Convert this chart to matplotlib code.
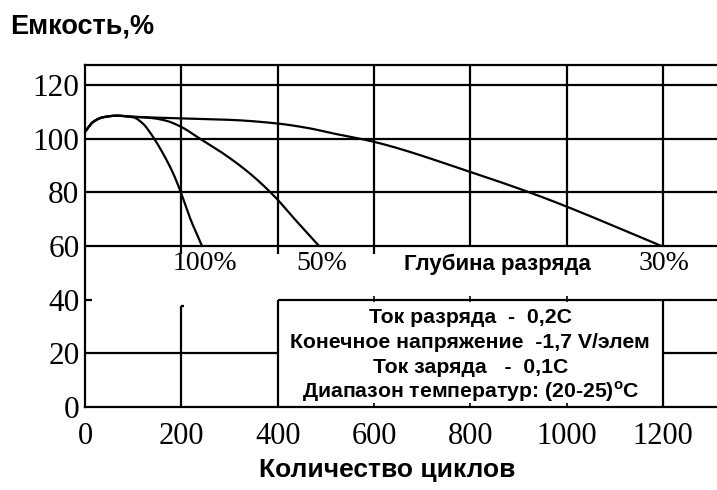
import matplotlib
matplotlib.use("Agg")
import matplotlib.pyplot as plt
import numpy as np

# ---- data ----
cycles_100 = [0, 17, 37, 65, 100, 120, 134, 162, 183, 199, 217, 243]
cap_100 = [102.6, 106.3, 108.0, 108.6, 108.0, 105.7, 102.6, 94.5, 87.1, 80.0, 70.9, 60.0]

cycles_50 = [0, 17, 37, 65, 100, 140, 169, 199, 238, 287, 342, 394, 437, 486]
cap_50 = [102.6, 106.3, 108.0, 108.6, 108.2, 107.7, 106.7, 104.5, 100.1, 94.5, 87.1, 78.4, 69.7, 60.0]

cycles_30 = [0, 17, 37, 65, 100, 199, 307, 399, 466, 515, 599, 799, 938, 1000, 1197]
cap_30 = [102.6, 106.3, 108.0, 108.6, 108.2, 107.6, 107.0, 105.7, 103.9, 102.0, 98.9, 87.7, 79.0, 74.7, 60.0]

depth_labels = ["100%", "50%", "30%"]
x_ticks = [0, 200, 400, 600, 800, 1000, 1200]
y_ticks = [0, 20, 40, 60, 80, 100, 120]
grid_x = [200, 400, 600, 800, 1000, 1200]
grid_y_upper = [60, 80, 100, 120]

y_title = "Емкость,%"
x_title = "Количество циклов"
depth_title = "Глубина разряда"
conditions = [
    "Ток разряда  -  0,2С",
    "Конечное напряжение  -1,7 V/элем",
    "Ток заряда   -  0,1С",
    "Диапазон температур: (20-25)$^\\mathregular{o}$C",
]


def smooth(x, y, n=300):
    """Monotone cubic (Fritsch-Carlson) curve through the given points, for drawing."""
    x = np.asarray(x, float)
    y = np.asarray(y, float)
    h = np.diff(x)
    d = np.diff(y) / h
    m = np.zeros_like(y)
    m[0], m[-1] = d[0], d[-1]
    for i in range(1, len(x) - 1):
        if d[i - 1] * d[i] <= 0:
            m[i] = 0.0
        else:
            w1 = 2 * h[i] + h[i - 1]
            w2 = h[i] + 2 * h[i - 1]
            m[i] = (w1 + w2) / (w1 / d[i - 1] + w2 / d[i])
    xs = np.linspace(x[0], x[-1], n)
    idx = np.clip(np.searchsorted(x, xs) - 1, 0, len(x) - 2)
    t = (xs - x[idx]) / h[idx]
    h00 = 2 * t**3 - 3 * t**2 + 1
    h10 = t**3 - 2 * t**2 + t
    h01 = -2 * t**3 + 3 * t**2
    h11 = t**3 - t**2
    ys = h00 * y[idx] + h10 * h[idx] * m[idx] + h01 * y[idx + 1] + h11 * h[idx] * m[idx + 1]
    return xs, ys


XMAX, YMAX = 1312, 127.5
LW = 1.6
sans = ["Liberation Sans", "DejaVu Sans"]
serif = ["Liberation Serif", "DejaVu Serif"]

fig = plt.figure(figsize=(7.17, 4.90), dpi=100)
ax = fig.add_axes([85 / 717, 83 / 490, (717 - 85) / 717, 342 / 490])
ax.set_xlim(0, XMAX)
ax.set_ylim(0, YMAX)

for s in ["left", "top", "bottom"]:
    ax.spines[s].set_linewidth(LW)
    ax.spines[s].set_color("black")
ax.spines["right"].set_visible(False)

# upper grid
ax.vlines(grid_x, 60, YMAX, colors="black", lw=LW)
ax.hlines(grid_y_upper, 0, XMAX, colors="black", lw=LW)
ax.vlines(grid_x[:3], 57, 60, colors="black", lw=LW)

# lower structure
ax.hlines(40, 0, 15, colors="black", lw=LW)
ax.vlines(200, 0, 37.5, colors="black", lw=LW)
ax.hlines(37.5, 200, 205, colors="black", lw=LW)
ax.hlines(20, 0, 400, colors="black", lw=LW)
ax.hlines(20, 1200, XMAX, colors="black", lw=LW)
ax.vlines([400, 1200], 0, 40, colors="black", lw=LW)
ax.hlines(40, 400, XMAX, colors="black", lw=LW)
ax.vlines([600, 800, 1000], 39, 41.5, colors="black", lw=1.2)
ax.vlines([600, 800, 1000], 0, 1.5, colors="black", lw=1.2)

# curves
for cx, cy in [(cycles_100, cap_100), (cycles_50, cap_50), (cycles_30, cap_30)]:
    sx, sy = smooth(cx, cy)
    ax.plot(sx, sy, color="black", lw=LW, solid_joinstyle="round", solid_capstyle="round")

# depth labels
for lbl, cx in zip(depth_labels, [cycles_100[-1], cycles_50[-1], cycles_30[-1]]):
    ax.text(cx + 5, 53.5, lbl, ha="center", va="center", fontsize=20, family=serif)
ax.text(857, 53.2, depth_title, ha="center", va="center", fontsize=16,
        fontweight="bold", family=sans)

# conditions box text
for txt, yy in zip(conditions, [33.5, 24.2, 14.9, 5.6]):
    ax.text(800, yy, txt, ha="center", va="center", fontsize=15.3,
            fontweight="bold", family=sans)

# ticks
ax.set_xticks(x_ticks)
ax.set_yticks(y_ticks)
ax.set_xticklabels([str(v) for v in x_ticks], family=serif, fontsize=22)
ax.set_yticklabels([str(v) for v in y_ticks], family=serif, fontsize=22.5)
ax.tick_params(axis="both", length=0)
ax.tick_params(axis="x", pad=11)
ax.tick_params(axis="y", pad=4)

# titles
fig.text(10 / 717, 1 - 27 / 490, y_title, ha="left", va="center", fontsize=19.5,
         fontweight="bold", family=sans)
fig.text(387 / 717, 1 - 470 / 490, x_title, ha="center", va="center", fontsize=19,
         fontweight="bold", family=sans)

fig.savefig("out.png", dpi=100)
